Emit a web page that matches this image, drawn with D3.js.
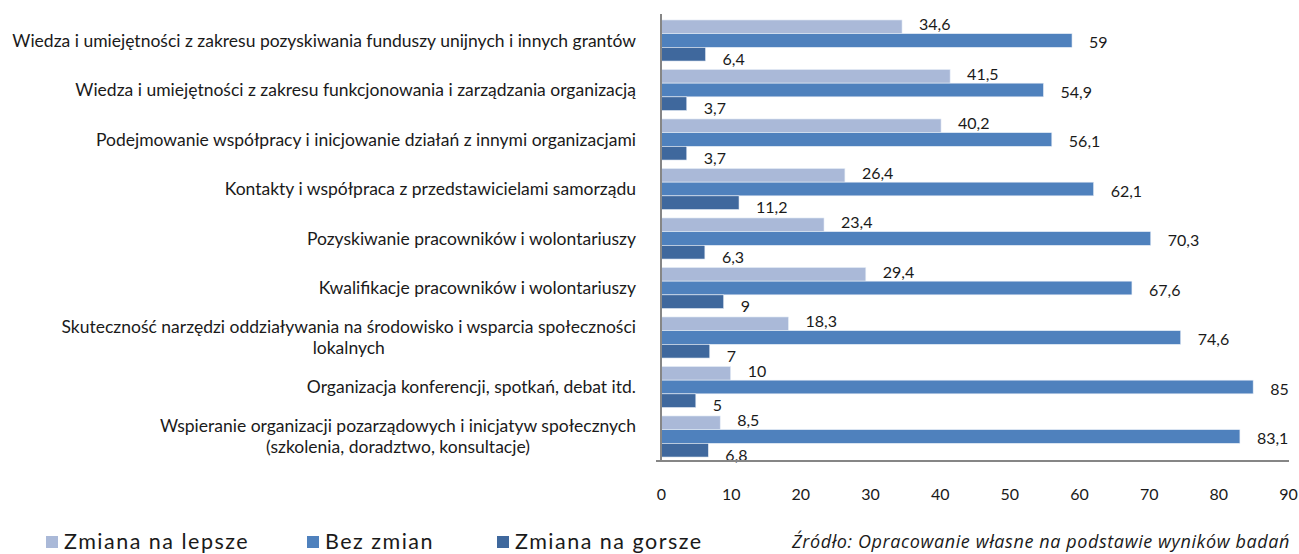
<!DOCTYPE html>
<meta charset="utf-8">
<style>
  body { margin: 0; background: #fff; }
  text { font-family: Lato, "Open Sans", sans-serif; fill: #1a1a1a; }
</style>
<svg width="1299" height="554"></svg>
<script src="https://d3js.org/d3.v7.min.js"></script>
<script>
    // categories (top to bottom), lines split where the original wraps
    var categories = [
        ["Wiedza i umiejętności z zakresu pozyskiwania funduszy unijnych i innych grantów"],
        ["Wiedza i umiejętności z zakresu funkcjonowania i zarządzania organizacją"],
        ["Podejmowanie współpracy i inicjowanie działań z innymi organizacjami"],
        ["Kontakty i współpraca z przedstawicielami samorządu"],
        ["Pozyskiwanie pracowników i wolontariuszy"],
        ["Kwalifikacje pracowników i wolontariuszy"],
        ["Skuteczność narzędzi oddziaływania na środowisko i wsparcia społeczności", "lokalnych"],
        ["Organizacja konferencji, spotkań, debat itd."],
        ["Wspieranie organizacji pozarządowych i inicjatyw społecznych", "(szkolenia, doradztwo, konsultacje)"]
    ];
    var seriesNames = ["Zmiana na lepsze", "Bez zmian", "Zmiana na gorsze"];
    var lepsze = [34.6, 41.5, 40.2, 26.4, 23.4, 29.4, 18.3, 10, 8.5];
    var bezZmian = [59, 54.9, 56.1, 62.1, 70.3, 67.6, 74.6, 85, 83.1];
    var gorsze = [6.4, 3.7, 3.7, 11.2, 6.3, 9, 7, 5, 6.8];
    var xTicks = [0, 10, 20, 30, 40, 50, 60, 70, 80, 90];

    var colors = ["#aab9d8", "#4f81bd", "#3f689d"];
    var labelShift = [-2, 2, 5];

    var svg = d3.select("svg");
    var series = [lepsze, bezZmian, gorsze];

    var x = d3.scaleLinear().domain([0, 90]).range([661, 1288]);
    var y = d3.scaleBand().domain(d3.range(categories.length)).range([16, 461]).paddingInner(0.17).paddingOuter(0.08);
    var yInner = d3.scaleBand().domain(d3.range(3)).range([0, y.bandwidth()]);

    // bars
    var groups = svg.append("g").selectAll("g")
        .data(categories)
        .enter().append("g")
        .attr("transform", function(d, i) { return "translate(0," + y(i) + ")"; });

    groups.each(function(d, i) {
        var g = d3.select(this);
        series.forEach(function(s, k) {
            g.append("rect")
                .attr("x", x(0))
                .attr("y", yInner(k))
                .attr("width", x(s[i]) - x(0))
                .attr("height", yInner.bandwidth())
                .attr("fill", colors[k])
                .attr("stroke", "#e8eef7")
                .attr("stroke-width", 0.6);
            g.append("text")
                .attr("x", x(s[i]) + 17)
                .attr("y", yInner(k) + yInner.bandwidth() / 2 + labelShift[k])
                .attr("dy", "0.35em")
                .style("font-size", "16px")
                .text(String(s[i]).replace(".", ","));
        });
    });

    // category labels
    var catG = svg.append("g");
    categories.forEach(function(lines, i) {
        var cy = y(i) + y.bandwidth() / 2;
        var t = catG.append("text")
            .attr("y", cy - (lines.length - 1) * 10.5)
            .style("font-size", "17.5px");
        if (lines.length == 1) {
            t.attr("x", 636).attr("text-anchor", "end").attr("dy", "0.35em").text(lines[0]);
        } else {
            // right-aligned block, lines centred on each other
            t.attr("text-anchor", "middle");
            var tmp = t.append("tspan").text(lines[0]);
            var w = tmp.node().getComputedTextLength();
            tmp.remove();
            var cx = 636 - w / 2;
            lines.forEach(function(line, j) {
                t.append("tspan").attr("x", cx).attr("dy", j == 0 ? "0.35em" : "21").text(line);
            });
        }
    });

    // axes lines
    svg.append("line")
        .attr("x1", x(0)).attr("x2", x(0)).attr("y1", 14).attr("y2", 462)
        .attr("stroke", "#868686").attr("stroke-width", 2);
    svg.append("line")
        .attr("x1", 656).attr("x2", x(90) + 1).attr("y1", 461).attr("y2", 461)
        .attr("stroke", "#868686").attr("stroke-width", 2);

    // x tick labels
    var xAxis = d3.axisBottom(x).tickValues(xTicks).tickSize(0).tickPadding(0);
    var xg = svg.append("g").attr("transform", "translate(0,489)").call(xAxis);
    xg.select(".domain").remove();
    xg.selectAll("text")
        .style("font-size", "16px")
        .style("font-family", "Lato, sans-serif")
        .attr("fill", "#1a1a1a");

    // legend
    var legendX = [46, 307, 497];
    var legend = svg.append("g").selectAll("g")
        .data(seriesNames)
        .enter().append("g")
        .attr("transform", function(d, i) { return "translate(" + legendX[i] + ",536)"; });
    legend.append("rect")
        .attr("width", 12).attr("height", 12)
        .attr("fill", function(d, i) { return colors[i]; });
    legend.append("text")
        .attr("x", 18).attr("y", 12.5)
        .style("font-size", "21.5px")
        .style("letter-spacing", "1.5px")
        .text(function(d) { return d; });

    // source note
    svg.append("text")
        .attr("x", 1290).attr("y", 548)
        .attr("text-anchor", "end")
        .style("font-family", "'Open Sans', sans-serif")
        .style("font-size", "18px")
        .style("letter-spacing", "0.6px")
        .style("font-style", "italic")
        .text("Źródło: Opracowanie własne na podstawie wyników badań");
</script>
